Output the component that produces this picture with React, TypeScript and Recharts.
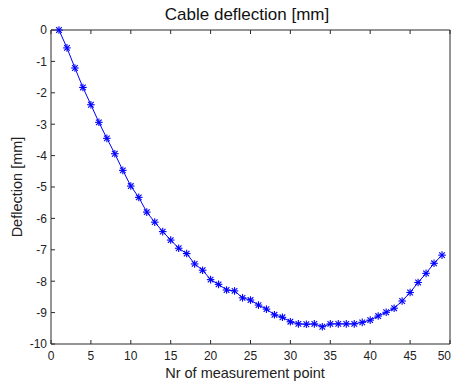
import React from "react";
import { Line, LineChart, XAxis, YAxis } from "recharts";

const measurementPoints = [
	1, 2, 3, 4, 5, 6, 7, 8, 9, 10, 11, 12, 13, 14, 15, 16, 17, 18, 19, 20, 21, 22,
	23, 24, 25, 26, 27, 28, 29, 30, 31, 32, 33, 34, 35, 36, 37, 38, 39, 40, 41, 42,
	43, 44, 45, 46, 47, 48, 49,
];

const deflectionMm = [
	0, -0.57, -1.21, -1.83, -2.38, -2.94, -3.45, -3.94, -4.47, -4.97, -5.33, -5.8,
	-6.12, -6.42, -6.69, -6.95, -7.12, -7.45, -7.65, -7.95, -8.1, -8.28, -8.31,
	-8.53, -8.6, -8.76, -8.89, -9.07, -9.15, -9.29, -9.36, -9.37, -9.36, -9.45,
	-9.36, -9.36, -9.36, -9.36, -9.31, -9.24, -9.11, -8.99, -8.86, -8.63, -8.36,
	-8.04, -7.75, -7.43, -7.17,
];

const xTicks = [0, 5, 10, 15, 20, 25, 30, 35, 40, 45, 50];
const yTicks = [-10, -9, -8, -7, -6, -5, -4, -3, -2, -1, 0];

const chartTitle = "Cable deflection [mm]";
const xLabel = "Nr of measurement point";
const yLabel = "Deflection [mm]";

const data = measurementPoints.map((point, i) => ({
	point,
	deflection: deflectionMm[i],
}));

const FONT = "'Liberation Sans', Arial, sans-serif";
const AXIS = "#2a2a2a";
const BLUE = "#0000ff";

const BottomTick = ({ x, y, payload }: any) => {
	// last label sits on the right border, nudge it in so it isn't clipped
	const isLast = payload.value === xTicks[xTicks.length - 1];
	return (
		<g>
			<line x1={x} x2={x} y1={y} y2={y - 4} stroke={AXIS} />
			<text
				x={isLast ? x + 1 : x}
				y={y + 15.5}
				textAnchor={isLast ? "end" : "middle"}
				fontSize={12}
				fontFamily={FONT}
				fill="#222"
			>
				{payload.value}
			</text>
		</g>
	);
};

const LeftTick = ({ x, y, payload }: any) => (
	<g>
		<line x1={x} x2={x + 4} y1={y} y2={y} stroke={AXIS} />
		<text
			x={x - 4}
			y={y + 4.3}
			textAnchor="end"
			fontSize={12}
			fontFamily={FONT}
			fill="#222"
		>
			{payload.value}
		</text>
	</g>
);

const TopTick = ({ x, y }: any) => (
	<line x1={x} x2={x} y1={y} y2={y + 4} stroke={AXIS} />
);

const RightTick = ({ x, y }: any) => (
	<line x1={x - 4} x2={x} y1={y} y2={y} stroke={AXIS} />
);

const Asterisk = ({ cx, cy, index }: any) => {
	const r = 3.8;
	const d = 2.8;
	return (
		<g key={`star-${index}`} stroke={BLUE} strokeWidth={1.1}>
			<line x1={cx - r} x2={cx + r} y1={cy} y2={cy} />
			<line x1={cx} x2={cx} y1={cy - r} y2={cy + r} />
			<line x1={cx - d} x2={cx + d} y1={cy - d} y2={cy + d} />
			<line x1={cx - d} x2={cx + d} y1={cy + d} y2={cy - d} />
		</g>
	);
};

export default function App() {
	return (
		<div style={{ position: "absolute", left: 0, top: 0, background: "#fff" }}>
			<LineChart
				width={452}
				height={384}
				data={data}
				margin={{ top: 29, right: 1, bottom: 0, left: 0 }}
			>
				<XAxis
					xAxisId="bottom"
					dataKey="point"
					type="number"
					domain={[0, 50]}
					ticks={xTicks}
					height={40}
					tickSize={0}
					tickMargin={0}
					tickLine={false}
					stroke={AXIS}
					tick={<BottomTick />}
					interval={0}
					label={{
						content: () => (
							<text
								x={245}
								y={378}
								textAnchor="middle"
								fontSize={14.5}
								fontFamily={FONT}
								fill="#222"
							>
								{xLabel}
							</text>
						),
					}}
				/>
				<XAxis
					xAxisId="top"
					orientation="top"
					dataKey="point"
					type="number"
					domain={[0, 50]}
					ticks={xTicks}
					height={1}
					tickSize={0}
					tickMargin={0}
					tickLine={false}
					stroke={AXIS}
					tick={<TopTick />}
					interval={0}
					label={{
						content: () => (
							<text
								x={247}
								y={19.5}
								textAnchor="middle"
								fontSize={17}
								fontFamily={FONT}
								fill="#111"
							>
								{chartTitle}
							</text>
						),
					}}
				/>
				<YAxis
					yAxisId="left"
					type="number"
					domain={[-10, 0]}
					ticks={yTicks}
					width={51}
					tickSize={0}
					tickMargin={0}
					tickLine={false}
					stroke={AXIS}
					tick={<LeftTick />}
					interval={0}
					label={{
						content: () => (
							<text
								x={21.5}
								y={187}
								transform="rotate(-90 21.5 187)"
								textAnchor="middle"
								fontSize={14.5}
								fontFamily={FONT}
								fill="#222"
							>
								{yLabel}
							</text>
						),
					}}
				/>
				<YAxis
					yAxisId="right"
					orientation="right"
					type="number"
					domain={[-10, 0]}
					ticks={yTicks}
					width={1}
					tickSize={0}
					tickMargin={0}
					tickLine={false}
					stroke={AXIS}
					tick={<RightTick />}
					interval={0}
				/>
				<Line
					xAxisId="bottom"
					yAxisId="left"
					dataKey="deflection"
					stroke={BLUE}
					strokeWidth={1}
					dot={<Asterisk />}
					activeDot={false}
					isAnimationActive={false}
				/>
			</LineChart>
		</div>
	);
}
